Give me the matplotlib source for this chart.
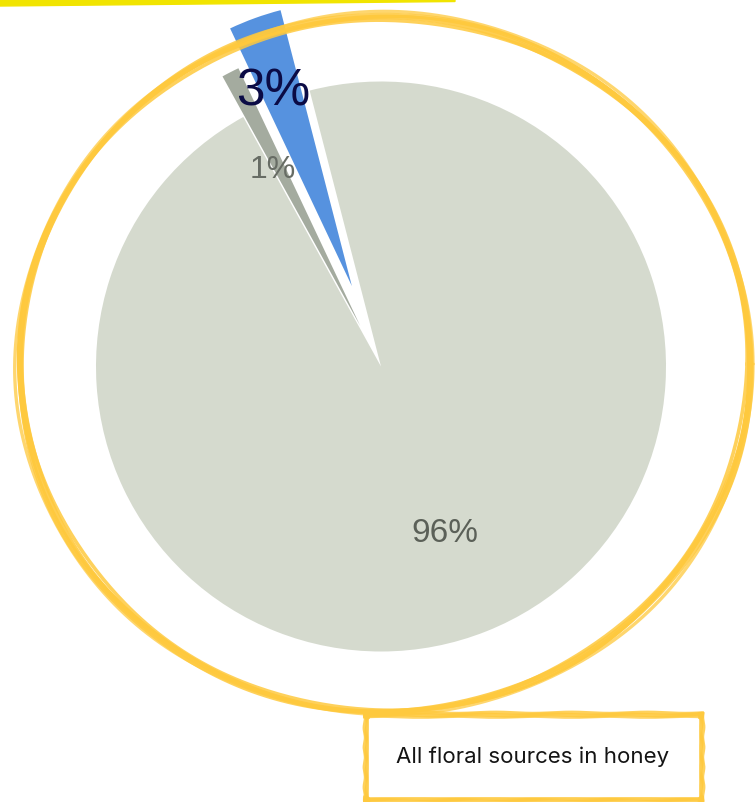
import numpy as np
import matplotlib.pyplot as plt

W, H = 755, 802

# floral sources share
values = [96, 1, 3]
labels = ["96%", "1%", "3%"]
colors = ["#d5dace", "#a4ab9f", "#5692df"]
caption = "All floral sources in honey"

plt.rcParams['font.family'] = ['Liberation Sans', 'DejaVu Sans']

fig = plt.figure(figsize=(W/100, H/100), dpi=100)
ax = fig.add_axes([0, 0, 1, 1])


def Y(y):
    # pixel rows measured from the top
    return H - y


def brush_ellipse(cx, cy, rx, ry, color, strands):
    t = np.linspace(0, 2*np.pi, 600)
    for dr, lw, a, ph in strands:
        wob = 1.2*np.sin(3*t + ph) + 0.7*np.sin(8*t + 2*ph)
        x = cx + (rx + dr + wob)*np.cos(t)
        y = Y(cy) + (ry + dr + wob)*np.sin(t)
        ax.plot(x, y, color=color, lw=lw, alpha=a, solid_capstyle='round', zorder=6)


def brush_line(x0, y0, x1, y1, color, strands):
    t = np.linspace(0, 1, 200)
    dx, dy = x1 - x0, y1 - y0
    n = np.hypot(dx, dy)
    nx, ny = -dy/n, dx/n
    for off, lw, a, ph in strands:
        wob = off + 0.6*np.sin(9*t*np.pi + ph)
        x = x0 + dx*t + nx*wob
        y = y0 + dy*t + ny*wob
        ax.plot(x, [Y(v) for v in y], color=color, lw=lw, alpha=a,
                solid_capstyle='butt', zorder=1)


yellow = "#fec93e"

# caption box
box = [(363, 715, 704, 715), (701, 712, 701, 802), (704, 799, 363, 799), (367, 802, 367, 713)]
box_strands = [(-2, 2.6, 0.85, 0.0), (0, 3.0, 0.9, 1.7), (2, 2.2, 0.8, 3.1)]
for x0, y0, x1, y1 in box:
    brush_line(x0, y0, x1, y1, yellow, box_strands)
ax.fill([369, 698, 698, 369], [Y(719), Y(719), Y(796), Y(796)], color="white", zorder=2)
ax.text(533, Y(757), caption, family=['Inter', 'DejaVu Sans'], fontsize=16,
        color="#141414", ha='center', va='center', zorder=3)

# highlighter stroke along the top
ax.fill([0, 455, 455, 0], [Y(0), Y(0), Y(1.5), Y(6)], color="#f1e400", zorder=1)

R = 285
wedges, _ = ax.pie(values, colors=colors, startangle=104.5, counterclock=False,
                   explode=[0, 0.16*R, 0.30*R], radius=R, center=(381, Y(366.5)),
                   wedgeprops=dict(linewidth=0))
for w in wedges:
    w.set_zorder(4)

# hand-drawn ring around the pie
circle_strands = [(-3, 2.6, 0.85, 0.0), (-1, 3.4, 0.9, 1.3), (1, 3.2, 0.85, 2.1),
                  (3, 2.4, 0.75, 3.7), (0, 2.0, 1.0, 5.0)]
brush_ellipse(384.5, 364, 365.5, 348, yellow, circle_strands)

ax.text(445, Y(534), labels[0], fontsize=24, color="#5b6058", ha='center', va='center', zorder=7)
ax.text(273, Y(170), labels[1], fontsize=23, color="#676c64", ha='center', va='center', zorder=7)
ax.text(273, Y(92), labels[2], fontsize=37, color="#0b0b45", ha='center', va='center', zorder=7)

ax.set_xlim(0, W)
ax.set_ylim(0, H)
ax.set_aspect('auto')
ax.axis('off')

fig.savefig("out.png", dpi=100, facecolor="white")
